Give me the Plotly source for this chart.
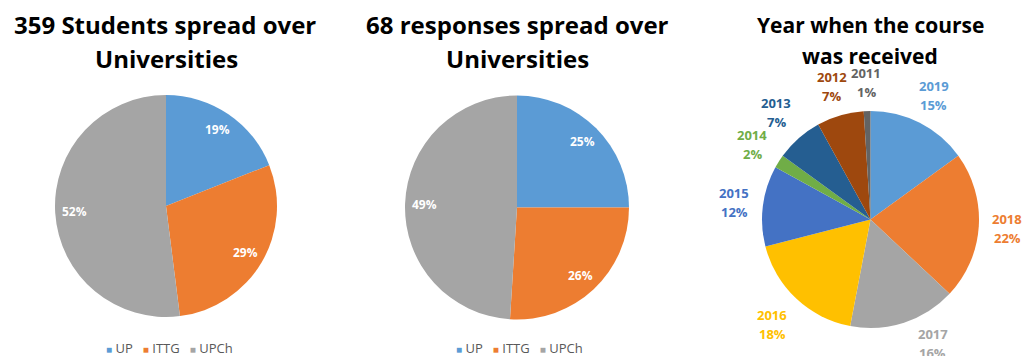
import math
import plotly.graph_objects as go

# Page body has a default 8px margin; the figure is sized to fill the rest of the window.
OFF = 8
W, H = 1031 - OFF, 356 - OFF

# Chart 1: 359 students spread over universities (percent)
uni_labels = ["UP", "ITTG", "UPCh"]
students_pct = [19, 29, 52]
# Chart 2: 68 responses spread over universities (percent)
responses_pct = [25, 26, 49]
uni_colors = ["#5B9BD5", "#ED7D31", "#A5A5A5"]

# Chart 3: year when the course was received (percent)
years = ["2019", "2018", "2017", "2016", "2015", "2014", "2013", "2012", "2011"]
year_pct = [15, 22, 16, 18, 12, 2, 7, 7, 1]
year_colors = ["#5B9BD5", "#ED7D31", "#A5A5A5", "#FFC000", "#4472C4",
               "#70AD47", "#255E91", "#9E480E", "#636363"]

FONT = "Open Sans"


def px(x):
    return (x - OFF) / W


def py(y):
    return 1 - (y - OFF) / H


def dom(cx, cy, r):
    return dict(x=[px(cx - r), px(cx + r)], y=[py(cy + r), py(cy - r)])


def mid_angles(values):
    total = float(sum(values))
    out, cum = [], 0.0
    for v in values:
        out.append((cum + v / 2.0) / total * 2 * math.pi)
        cum += v
    return out


pies = [
    dict(cx=166, cy=206, r=111, labels=uni_labels, values=students_pct, colors=uni_colors),
    dict(cx=517, cy=207.5, r=112, labels=uni_labels, values=responses_pct, colors=uni_colors),
    dict(cx=870.5, cy=219.5, r=108.5, labels=years, values=year_pct, colors=year_colors),
]

fig = go.Figure()
for p in pies:
    fig.add_trace(go.Pie(
        labels=p["labels"], values=p["values"], sort=False, direction="clockwise",
        rotation=0, marker=dict(colors=p["colors"]), domain=dom(p["cx"], p["cy"], p["r"]),
        textinfo="none", showlegend=False, hoverinfo="label+percent",
    ))

annotations = []

# data labels inside pies 1 and 2
for p in pies[:2]:
    total = sum(p["values"])
    for v, a in zip(p["values"], mid_angles(p["values"])):
        R = 0.83 * p["r"]
        x = p["cx"] + R * math.sin(a)
        y = p["cy"] - R * math.cos(a)
        annotations.append(dict(
            x=px(x), y=py(y), xref="paper", yref="paper", showarrow=False,
            text=f"{round(v / total * 100)}%", xanchor="center", yanchor="middle",
            font=dict(family=FONT, size=12, color="white", weight="bold")))

# outside-end labels for pie 3 (label box placed just outside the slice edge)
p = pies[2]
total = sum(p["values"])
HW, HH, GAP, YMAX = 15.5, 16.0, 13.0, 343.0
for lab, v, c, a in zip(p["labels"], p["values"], p["colors"], mid_angles(p["values"])):
    s, co = math.sin(a), math.cos(a)
    ext = min(HW / abs(s) if abs(s) > 1e-9 else 1e9, HH / abs(co) if abs(co) > 1e-9 else 1e9)
    R = p["r"] + GAP + ext
    y = p["cy"] - R * co
    if y > YMAX:  # keep label inside chart area: slide it along the circle
        ca = -(YMAX - p["cy"]) / R
        a2 = math.acos(ca)
        a = a2 if s >= 0 else 2 * math.pi - a2
        s, co = math.sin(a), math.cos(a)
        y = p["cy"] - R * co
    x = p["cx"] + R * s
    for dy, t in ((-9.5, lab), (9.5, f"{round(v / total * 100)}%")):
        annotations.append(dict(
            x=px(x), y=py(y + dy), xref="paper", yref="paper", showarrow=False,
            text=t, xanchor="center", yanchor="middle",
            font=dict(family=FONT, size=13, color=c, weight="bold")))

# titles
titles = [
    (165, 25, "359 Students spread over", 24),
    (166, 58, "Universities", 24),
    (517, 25, "68 responses spread over", 24),
    (517, 58, "Universities", 24),
    (870, 25, "Year when the course", 21),
    (870, 56, "was received", 21),
]
for x, y, t, s in titles:
    annotations.append(dict(
        x=px(x), y=py(y), xref="paper", yref="paper", text=t, showarrow=False,
        xanchor="center", yanchor="middle",
        font=dict(family=FONT, size=s, color="#000000", weight="bold")))

# legends under pies 1 and 2
sp = "\u00a0"
for lx in (169, 519):
    parts = [f'<span style="color:{c};font-size:10px">■</span>{sp}{lab}'
             for lab, c in zip(uni_labels, uni_colors)]
    annotations.append(dict(
        x=px(lx), y=py(348), xref="paper", yref="paper", showarrow=False,
        text=(sp * 3).join(parts), xanchor="center", yanchor="middle",
        font=dict(family=FONT, size=13, color="#595959")))

fig.update_layout(
    width=W, height=H, margin=dict(l=0, r=0, t=0, b=0),
    paper_bgcolor="white", plot_bgcolor="white",
    annotations=annotations, showlegend=False,
)

fig.write_html("out.html")
